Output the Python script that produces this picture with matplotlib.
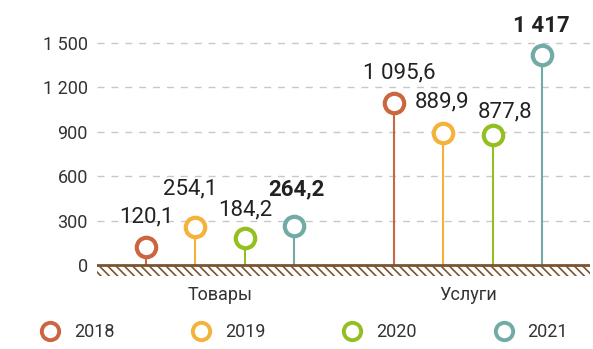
import matplotlib.pyplot as plt
from matplotlib.lines import Line2D

plt.rcParams['font.family'] = ['Roboto', 'DejaVu Sans']
plt.rcParams['hatch.linewidth'] = 1.2

# данные, млрд руб.
categories = ['Товары', 'Услуги']
years = ['2018', '2019', '2020', '2021']
goods = [120.1, 254.1, 184.2, 264.2]
services = [1095.6, 889.9, 877.8, 1417]
colors = ['#cc6640', '#f5b23a', '#94bf20', '#72aba6']
y_ticks = [0, 300, 600, 900, 1200, 1500]

# смещения подписей над кружками (пиксели)
label_dx = [[1, -5, 1, 2], [6, -1, 12, -1]]
label_dy = [[30, 38, 28, 37], [30, 31, 23, 29]]
bold_year = 3


def fmt(v):
    if float(v).is_integer():
        s = f'{int(v):,}'.replace(',', ' ')
    else:
        s = f'{v:,.1f}'.replace(',', ' ').replace('.', ',')
    return s


fig = plt.figure(figsize=(5.93, 3.49), dpi=100)
ax = fig.add_axes([97 / 593, (349 - 280) / 349, (590 - 97) / 593, 270 / 349])

group_centers = [0, 5]
offsets = [-1.5, -0.5, 0.5, 1.5]
brown = '#7a5430'

for g, vals in enumerate([goods, services]):
    for i, v in enumerate(vals):
        x = group_centers[g] + offsets[i]
        ax.plot([x, x], [0, v], color=colors[i], lw=1.5, zorder=2,
                solid_capstyle='butt')
        ax.plot(x, v, 'o', ms=14, mfc='white', mec=colors[i], mew=3,
                zorder=3)
        ax.annotate(fmt(v), (x, v), xytext=(label_dx[g][i], label_dy[g][i]),
                    textcoords='offset pixels', ha='center', va='center',
                    fontsize=16, color='#222222',
                    fontweight='bold' if i == bold_year else 'normal')

ax.set_xlim(-2.48, 7.46)
ax.set_ylim(-101, 1723)

# земля под осью
ax.axhline(0, color=brown, lw=2, zorder=4)
ax.fill_between([-2.48, 7.46], -72, 0, facecolor='none', edgecolor=brown,
                linewidth=0, hatch='\\\\\\\\', zorder=1)

for y in y_ticks[1:]:
    ax.axhline(y, color='#c8c8c8', lw=1, ls=(0, (5, 5)), zorder=0)

ax.set_yticks(y_ticks)
ax.set_yticklabels([fmt(t) for t in y_ticks])
ax.set_xticks(group_centers)
ax.set_xticklabels(categories)
ax.tick_params(axis='y', length=0, pad=6.5, labelsize=13, labelcolor='#333333')
ax.tick_params(axis='x', length=0, pad=4, labelsize=13, labelcolor='#333333')
for s in ax.spines.values():
    s.set_visible(False)

handles = [Line2D([], [], marker='o', ls='none', ms=12.5, mfc='white', mec=c,
                  mew=2.8) for c in colors]
fig.legend(handles, years, loc='center', bbox_to_anchor=(0.512, 0.049),
           ncol=4, frameon=False, fontsize=13, handlelength=1.2,
           handletextpad=0.73, columnspacing=4.2, labelcolor='#333333')

fig.savefig('out.png', dpi=100)
